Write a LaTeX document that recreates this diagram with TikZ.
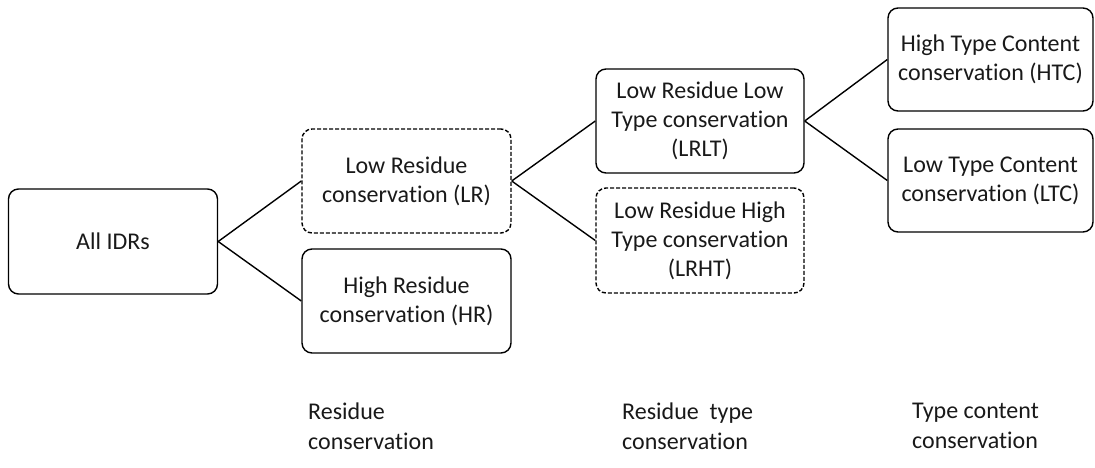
\documentclass[tikz,border=0pt]{standalone}
\usepackage{fontspec}
\setmainfont{Carlito}[Ligatures=NoCommon]
\begin{document}
\begin{tikzpicture}[x=1pt,y=-1pt,
  box/.style={draw=black, line width=1.4pt, rounded corners=10pt, align=center,
    text=black!90, inner sep=0pt, font=\fontsize{24}{29}\selectfont},
  dbox/.style={box, dash pattern=on 4pt off 2pt},
  link/.style={draw=black, line width=1.4pt},
  lbl/.style={anchor=north west, align=left, inner sep=0pt, text=black!90,
    font=\fontsize{24}{30}\selectfont}]
\useasboundingbox (0,0) rectangle (1095,468);
\node[box, minimum width=209pt, minimum height=105pt] (all) at (113,241.5) {All IDRs};
\node[dbox, minimum width=209pt, minimum height=104pt] (lr) at (406.5,181) {Low Residue\\conservation (LR)};
\node[box, minimum width=209pt, minimum height=104pt] (hr) at (406.5,301) {High Residue\\conservation (HR)};
\node[box, minimum width=208pt, minimum height=104pt] (lrlt) at (700,121) {Low Residue Low\\Type conservation\\(LRLT)};
\node[dbox, minimum width=208pt, minimum height=105pt] (lrht) at (700,240.5) {Low Residue High\\Type conservation\\(LRHT)};
\node[box, minimum width=205pt, minimum height=103pt] (htc) at (990.5,59.5) {High Type Content\\conservation (HTC)};
\node[box, minimum width=205pt, minimum height=103pt] (ltc) at (990.5,180.5) {Low Type Content\\conservation (LTC)};
\draw[link] (all.east) -- (lr.west);
\draw[link] (all.east) -- (hr.west);
\draw[link] (lr.east) -- (lrlt.west);
\draw[link] (lr.east) -- (lrht.west);
\draw[link] (lrlt.east) -- (htc.west);
\draw[link] (lrlt.east) -- (ltc.west);
\node[lbl] (l1) at (308,403) {Residue\\conservation};
\node[lbl] (l2) at (622,403) {Residue\ \ type\\conservation};
\node[lbl] (l3) at (912,403) {Type content\\conservation};
\end{tikzpicture}
\end{document}
